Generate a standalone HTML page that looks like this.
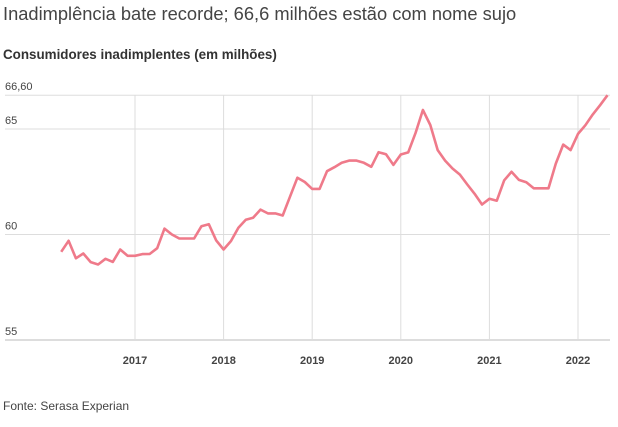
<!DOCTYPE html>
<html><head><meta charset="utf-8"><style>
body{margin:0;background:#fff;font-family:"Liberation Sans",sans-serif;}
#c{position:relative;width:618px;height:427px;overflow:hidden}
.t{position:absolute;white-space:nowrap;color:#333}
</style></head><body><div id="c">
<div class="t" style="left:3px;top:3px;font-size:18.3px;color:#444">Inadimplência bate recorde; 66,6 milhões estão com nome sujo</div>
<div class="t" style="left:3px;top:47px;font-size:13.4px;font-weight:bold;color:#333">Consumidores inadimplentes (em milhões)</div>
<svg id="s" width="618" height="427" style="position:absolute;left:0;top:0"></svg>
<div class="t" style="left:3px;top:399px;font-size:12px;color:#444">Fonte: Serasa Experian</div>
</div>
<script>
const values=[59.18,59.7,58.87,59.1,58.69,58.58,58.85,58.7,59.29,58.99,
58.99,59.07,59.08,59.35,60.28,60.0,59.81,59.81,59.81,60.39,60.49,59.72,
59.29,59.69,60.32,60.7,60.79,61.18,61.0,61.0,60.9,61.79,62.69,62.49,
62.16,62.16,63.0,63.19,63.4,63.5,63.5,63.4,63.21,63.9,63.8,63.3,
63.79,63.89,64.82,65.9,65.19,64.0,63.5,63.13,62.84,62.37,61.93,61.42,
61.69,61.6,62.57,62.97,62.59,62.48,62.19,62.19,62.19,63.36,64.26,64.0,
64.77,65.18,65.69,66.13,66.6];
const startMonth=2016+2/12;
const yTicks=[55,60,65,66.6];
const yTickLabels=["55","60","65","66,60"];
const xTicks=[2017,2018,2019,2020,2021,2022];
const NS="http://www.w3.org/2000/svg",s=document.getElementById('s');
const x=v=>135+(v-2017)*88.6, y=v=>340-(v-55)*21.1;
function el(t,a){const e=document.createElementNS(NS,t);for(const k in a)e.setAttribute(k,a[k]);s.appendChild(e);return e;}
yTicks.forEach((v,i)=>{
 const g=el('line',{x1:5,x2:610,y1:y(v),y2:y(v),stroke:i==0?'#bbb':'#ddd','stroke-width':1});
 
 
 const t=el('text',{x:5,y:y(v)-5,'font-size':11,fill:'#444','font-family':'Liberation Sans, sans-serif'});
 t.textContent=yTickLabels[i];
 
 
});
xTicks.forEach(v=>{
 const g=el('line',{x1:x(v),x2:x(v),y1:95,y2:340,stroke:'#ddd','stroke-width':1});
 
 
 const t=el('text',{x:x(v),y:364,'font-size':11,'font-weight':'bold',fill:'#444','text-anchor':'middle','font-family':'Liberation Sans, sans-serif'});
 t.textContent=v;
 
 
});
const d=values.map((v,i)=>(i?'L':'M')+x(startMonth+i/12).toFixed(1)+','+y(v).toFixed(1)).join('');
const p=el('path',{d:d,fill:'none',stroke:'#ef7a8a','stroke-width':2.6,'stroke-linejoin':'round'});


</script></body></html>
